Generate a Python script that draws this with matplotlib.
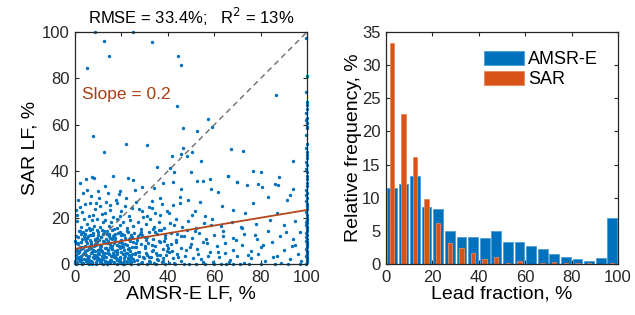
import numpy as np
import matplotlib
matplotlib.use("Agg")
import matplotlib.pyplot as plt

plt.rcParams["font.family"] = ["Liberation Sans", "DejaVu Sans"]

# ---- scatter data (AMSR-E LF vs SAR LF, %) ----
upper_x = [8.6, 24.8, 12.5, 33.1, 14.5, 44.6, 45.8, 5.0, 86.5, 44.1, 57.5, 46.4,
           58.9, 52.7, 7.9, 22.0, 31.2, 12.6, 46.4, 67.1, 72.5, 41.7, 45.7, 48.4,
           50.3, 54.3, 35.5, 40.9, 42.8, 94.1]
upper_y = [100.0, 99.8, 96.2, 95.7, 89.6, 89.7, 85.8, 84.3, 72.9, 68.2, 62.4, 58.5,
           58.9, 57.2, 55.1, 51.6, 51.2, 48.3, 49.9, 49.4, 48.7, 46.4, 47.3, 46.7,
           48.1, 44.5, 41.7, 41.2, 39.5, 44.6]

mid_x = [4.6, 7.2, 8.2, 16.2, 23.0, 25.1, 50.0, 76.9, 80.0, 88.1, 65.8, 58.2,
         52.7, 69.7, 79.0, 86.2, 29.0, 25.9, 9.8, 3.3, 5.3, 14.4, 19.4, 22.0,
         33.1, 36.6, 34.0, 38.1, 42.4, 45.7, 45.4, 48.9, 53.9, 55.3, 58.5, 61.8,
         66.1, 70.0, 74.0, 83.3, 87.6, 93.8, 92.7, 80.5, 63.2, 68.2, 73.3, 76.9,
         86.9, 91.2, 40.7, 42.4, 50.3, 56.0, 51.7, 45.3, 33.1, 28.7, 24.4, 18.0,
         15.1, 10.8, 6.5, 2.2, 0.4, 12.9, 7.9, 19.4, 30.9, 36.6]
mid_y = [36.6, 37.5, 37.2, 37.9, 37.2, 36.1, 39.5, 40.2, 39.5, 37.6, 37.9, 36.6,
         35.8, 35.2, 34.6, 34.5, 33.2, 31.9, 31.6, 30.8, 31.9, 30.5, 31.6, 28.6,
         27.3, 28.3, 32.6, 34.8, 35.5, 32.2, 29.0, 27.6, 26.9, 35.9, 32.2, 31.2,
         38.1, 35.2, 34.1, 29.0, 34.1, 32.2, 29.7, 33.1, 24.8, 23.4, 22.0, 26.3,
         22.0, 27.6, 22.0, 25.6, 21.3, 20.5, 22.7, 26.3, 24.1, 22.7, 24.1, 26.3,
         25.6, 24.8, 26.3, 24.6, 23.4, 22.0, 21.3, 20.5, 20.5, 21.3]

extra_x = [1.5, 3.0, 4.5, 6.0, 8.8, 10.2, 11.7, 13.3, 14.9, 16.4, 17.8, 19.9,
           21.5, 23.1, 26.2, 27.8, 29.3, 32.0, 34.5, 37.5, 39.5, 1.0, 7.0, 12.8,
           2.0, 18.9, 9.0]
extra_y = [27.5, 22.5, 25.8, 20.9, 23.7, 28.4, 21.6, 26.6, 23.1, 20.4, 27.8, 22.9,
           25.2, 20.8, 26.9, 23.5, 20.2, 24.4, 21.8, 25.7, 23.0, 21.0, 29.5, 33.8,
           34.7, 30.1, 26.1]

band15_x = [1.0, 2.5, 3.8, 5.0, 6.2, 7.5, 8.3, 9.6, 10.8, 12.0, 13.1, 14.5, 15.7,
            16.9, 18.2, 19.5, 20.9, 22.4, 23.8, 25.2, 27.0, 28.6, 30.4, 32.5, 34.1,
            36.3, 38.5, 41.0, 43.6, 46.2, 48.8, 52.0, 55.5, 59.0, 63.0, 67.5, 72.0,
            78.0, 84.0, 90.0, 95.0]
band15_y = [18.5, 16.0, 19.2, 17.1, 15.4, 18.8, 16.5, 19.6, 15.8, 17.9, 19.0, 16.2,
            18.2, 15.3, 19.4, 16.8, 17.9, 15.6, 19.1, 16.4, 18.3, 15.2, 17.4, 19.5,
            16.1, 18.0, 15.7, 17.5, 19.2, 16.0, 18.7, 15.5, 17.8, 19.4, 16.3, 18.1,
            15.6, 17.2, 19.1, 16.7, 18.4]

band10_x = [0.5, 1.7, 2.9, 4.1, 5.3, 6.4, 7.6, 8.8, 9.9, 11.2, 12.4, 13.5, 14.8,
            16.0, 17.3, 18.6, 19.8, 21.1, 22.5, 23.9, 25.4, 26.9, 28.4, 30.0, 31.7,
            33.5, 35.2, 37.0, 39.0, 41.3, 43.5, 45.8, 48.2, 50.6, 53.5, 56.5, 60.0,
            64.0, 68.0, 73.0, 78.5, 83.0, 88.5, 94.0, 97.0]
band10_y = [12.0, 14.2, 10.8, 13.1, 11.4, 14.6, 12.3, 10.3, 13.7, 11.6, 14.1, 10.9,
            12.8, 14.8, 11.2, 13.4, 10.5, 12.6, 14.4, 11.0, 13.2, 10.2, 14.0, 11.8,
            13.6, 10.6, 12.9, 14.5, 11.3, 13.3, 10.4, 12.2, 14.7, 11.1, 13.5, 10.7,
            12.6, 14.3, 11.4, 13.0, 10.9, 14.1, 12.0, 10.6, 13.8]

band5_x = [0.3, 1.1, 1.9, 2.7, 3.5, 4.3, 5.1, 5.9, 6.7, 7.5, 8.3, 9.1, 9.9, 10.8,
           11.6, 12.5, 13.4, 14.3, 15.2, 16.1, 17.1, 18.1, 19.1, 20.2, 21.3, 22.4,
           23.6, 24.8, 26.0, 27.3, 28.6, 30.0, 31.5, 33.0, 34.6, 36.2, 37.9, 39.7,
           41.6, 43.6, 45.7, 47.9, 50.2, 52.7, 55.3, 58.0, 61.0, 64.5, 68.0, 72.0,
           76.0, 80.0, 85.0, 90.0, 95.0]
band5_y = [6.2, 8.5, 5.4, 9.6, 7.1, 5.8, 8.9, 6.6, 9.3, 5.2, 7.8, 9.9, 6.0, 8.2,
           5.5, 9.4, 7.0, 5.9, 8.7, 6.4, 9.7, 5.1, 7.6, 9.0, 6.1, 8.4, 5.6, 9.5,
           7.2, 5.3, 8.8, 6.7, 9.2, 5.7, 7.9, 9.8, 6.3, 8.1, 5.4, 9.3, 7.0, 5.9,
           8.6, 6.5, 9.6, 5.2, 7.7, 9.1, 6.0, 8.3, 5.5, 7.4, 9.4, 6.2, 8.0]

band0_x = [0.2, 0.8, 1.4, 2.0, 2.6, 3.2, 3.8, 4.4, 5.0, 5.6, 6.2, 6.8, 7.4, 8.0,
           8.6, 9.2, 9.8, 10.4, 11.0, 11.6, 12.2, 12.8, 13.4, 14.0, 14.7, 15.4,
           16.1, 16.8, 17.5, 18.2, 18.9, 19.6, 20.3, 21.0, 21.8, 22.6, 23.4, 24.2,
           25.0, 25.9, 26.8, 27.7, 28.6, 29.6, 30.6, 31.7, 32.8, 34.0, 35.2, 36.5,
           37.8, 39.2, 40.7, 42.2, 43.8, 45.5, 47.2, 49.0, 51.0, 53.0, 55.0, 57.2,
           59.5, 62.0, 64.5, 67.0, 70.0, 73.0, 76.0, 79.0, 82.0, 85.5, 89.0, 92.5,
           96.0]
band0_y = [0.5, 2.8, 4.6, 1.2, 3.5, 0.3, 2.1, 4.1, 0.9, 3.0, 1.7, 4.8, 0.2, 2.5,
           3.9, 1.0, 4.4, 2.0, 0.6, 3.3, 4.9, 1.5, 2.9, 0.1, 4.2, 1.8, 3.6, 0.7,
           2.4, 4.5, 1.3, 3.1, 0.4, 2.7, 4.7, 1.1, 3.8, 0.8, 2.2, 4.3, 1.6, 3.4,
           0.3, 2.6, 4.6, 1.4, 3.2, 0.6, 2.3, 4.0, 1.2, 3.7, 0.5, 2.8, 4.5, 1.5,
           3.3, 0.2, 2.5, 4.1, 1.0, 3.6, 0.7, 2.9, 4.8, 1.8, 3.5, 0.4, 2.6, 4.4,
           1.3, 3.0, 0.6, 2.2, 4.2]

zero_x = [0.5, 3, 6, 9, 12, 15, 18, 21, 24, 27, 31, 35, 39, 43, 47, 52, 56, 60,
          63, 65, 68, 71, 75, 80, 86, 92, 97]
zero_y = [0, 0.2, 0, 0.1, 0, 0.3, 0, 0.1, 0, 0.2, 0, 0, 0.1, 0, 0.2, 0, 0, 0.1,
          0, 0.2, 0, 0, 0.1, 0, 0, 0.2, 0]

# dense core near the origin
core_x = [0.6, 1.3, 2.1, 2.8, 3.6, 4.2, 4.9, 5.7, 6.3, 7.1, 7.8, 8.5, 9.3, 10.1,
          10.7, 11.4, 12.1, 12.9, 13.7, 14.4, 15.1, 15.9, 16.6, 17.4, 18.3, 19.2,
          20.0, 20.8, 21.7, 22.7, 23.6, 24.6]
core_ya = [3.7, 11.8, 7.4, 1.9, 13.6, 5.1, 9.8, 0.9, 12.4, 6.8, 3.2, 10.6, 14.8,
           2.4, 8.1, 5.9, 13.1, 1.1, 9.1, 4.6, 11.2, 7.7, 2.9, 12.9, 6.2, 0.5, 10.3,
           4.2, 8.6, 13.9, 1.6, 7.3]
core_yb = [8.9, 2.2, 14.1, 6.5, 0.4, 10.9, 3.9, 12.1, 7.9, 1.4, 13.3, 5.6, 9.5,
           4.8, 0.8, 11.7, 2.7, 7.1, 14.3, 10.0, 1.8, 6.3, 12.7, 3.4, 8.4, 13.8,
           5.3, 0.2, 11.0, 2.5, 9.7, 4.4]
core_yc = [5.4, 9.2, 1.5, 12.8, 4.3, 7.6, 14.5, 2.6, 10.2, 0.7, 6.1, 8.8, 3.1,
           12.3, 6.9, 1.3, 9.9, 4.7, 13.0, 0.3, 7.2, 10.7, 3.7, 5.8, 1.9, 9.3,
           12.6, 7.5, 3.3, 6.6, 0.6, 11.5]
core_x2 = [0.2, 0.9, 1.7, 2.4, 3.2, 3.9, 4.6, 5.3, 6.0, 6.7, 7.4, 8.1, 8.9, 9.6,
           10.4, 11.1, 11.8, 12.6, 13.3, 14.1, 14.8, 15.5, 16.3, 17.0, 17.9, 18.8,
           19.6, 20.4, 21.2, 22.2, 23.2, 24.1]
core_yd = [1.2, 6.4, 3.0, 9.4, 0.6, 4.9, 11.3, 2.3, 7.0, 12.6, 0.9, 4.0, 8.3,
           1.7, 10.4, 5.5, 2.1, 13.5, 6.7, 1.0, 8.9, 3.6, 11.9, 0.4, 5.1, 9.6, 2.8,
           7.8, 1.5, 4.6, 10.8, 3.1]
core_ye = [9.9, 0.3, 5.0, 2.0, 7.3, 12.2, 1.4, 6.0, 3.6, 8.7, 15.1, 2.8, 0.5,
           11.4, 4.1, 7.9, 14.6, 3.5, 0.9, 6.2, 12.0, 1.2, 4.9, 9.0, 15.6, 2.0,
           6.8, 13.1, 4.5, 0.8, 6.9, 12.3]

# thinning out of the core towards larger AMSR-E LF
taper_x = [25.3, 26.1, 27.4, 28.2, 29.5, 30.3, 31.2, 32.4, 33.6, 34.3, 35.5, 36.8,
           37.4, 38.9, 39.6, 41.2, 42.5, 44.1, 25.8, 27.0, 28.9, 30.8, 32.0, 33.2,
           35.0, 36.0, 38.0, 40.3]
taper_y = [1.3, 9.1, 5.2, 13.0, 2.9, 7.8, 11.5, 0.8, 6.1, 14.0, 3.8, 9.6, 1.0,
           12.4, 5.7, 8.7, 0.6, 12.9, 4.7, 12.1, 0.9, 10.2, 2.9, 8.0, 4.6, 14.6,
           2.4, 5.3]

wide_x = [26.5, 29.0, 31.0, 33.8, 35.8, 38.2, 40.0, 42.8, 44.5, 46.8, 49.5, 51.8,
          54.2, 56.8, 58.6, 61.5, 63.8, 66.2, 69.5, 71.5, 74.5, 77.5, 81.0, 87.0,
          91.0, 93.5, 97.5]
wide_y = [7.4, 12.5, 3.9, 15.2, 1.7, 10.1, 6.8, 16.6, 3.1, 11.9, 7.3, 14.2, 2.1,
          9.2, 16.9, 5.1, 12.1, 0.9, 10.5, 16.1, 4.0, 12.6, 8.3, 3.6, 13.9, 7.6, 1.5]

# saturated column of points at AMSR-E LF = 100 %
col_x = [99.6, 100, 99.8, 100, 99.5, 100, 99.8, 100, 99.6, 100, 99.9, 100, 99.5,
         100, 99.7, 100, 99.6, 100, 99.8, 100, 99.5, 100, 99.7, 100, 99.9, 100,
         99.6, 100, 99.8, 100, 99.5, 100, 99.7, 100, 99.6, 100, 99.8, 100, 99.9,
         100, 99.6, 100, 99.7, 100, 99.8, 100, 99.6, 100, 99.7, 100, 99.8, 100,
         99.6, 100, 99.7, 100, 99.8, 100, 99.6, 100, 99.7, 100, 99.8, 100]
col_y = [0, 0.8, 1.6, 2.5, 3.3, 4.1, 5.0, 5.8, 6.6, 7.5, 8.3, 9.1, 10.0, 10.8,
         11.6, 12.5, 13.3, 14.1, 15.0, 15.8, 16.6, 17.5, 18.3, 19.1, 20.0, 21.2,
         22.4, 23.6, 24.8, 26.0, 27.2, 28.4, 29.6, 30.8, 32.0, 33.5, 35.0, 36.5,
         38.0, 39.5, 41.0, 42.5, 44.0, 45.5, 47.0, 48.4, 50.0, 51.7, 55.6, 58.5,
         59.2, 60.6, 62.0, 62.8, 65.0, 66.8, 68.5, 70.0, 74.0, 81.0, 97.6, 3.0,
         9.5, 16.0]

# least-squares fit shown on the chart: slope, intercept
fit_coef = [0.168, 6.5]

# ---- histogram data (relative frequency, %) ----
bin_centers = [2.5, 7.5, 12.5, 17.5, 22.5, 27.5, 32.5, 37.5, 42.5, 47.5,
               52.5, 57.5, 62.5, 67.5, 72.5, 77.5, 82.5, 87.5, 92.5, 97.5]
amsr_freq = [11.5, 12.05, 13.25, 8.65, 8.35, 4.95, 4.1, 4.1, 3.9, 4.95,
             3.3, 3.3, 2.7, 2.25, 1.55, 1.0, 0.75, 0.5, 0.95, 6.9]
sar_freq = [33.3, 22.7, 16.2, 9.75, 6.2, 3.2, 2.45, 1.6, 0.7, 1.1,
            0.1, 0.45, 0.05, 0.1, 0.3, 0.1, 0.1, 0.1, 0.0, 0.2]

blue = "#0072BD"
orange = "#D95319"
axcol = "#262626"

fig = plt.figure(figsize=(6.35, 3.15), dpi=100)
ax1 = fig.add_axes([0.1181, 0.1619, 0.3654, 0.7365])
ax2 = fig.add_axes([0.6079, 0.1619, 0.3654, 0.7365])

groups = [(upper_x, upper_y), (mid_x, mid_y), (extra_x, extra_y),
          (band15_x, band15_y), (band10_x, band10_y), (band5_x, band5_y),
          (band0_x, band0_y), (zero_x, zero_y), (core_x, core_ya),
          (core_x, core_yb), (core_x, core_yc), (core_x2, core_yd),
          (core_x2, core_ye), (taper_x, taper_y), (wide_x, wide_y),
          (col_x, col_y)]
for gx, gy in groups:
    ax1.scatter(gx, gy, s=6, color=blue, linewidths=0, clip_on=False, zorder=2)

ax1.plot([0, 100], [0, 100], ls=(0, (4, 3)), color="#6b6b6b", lw=1.0, zorder=3)
xf = np.array([0, 100])
ax1.plot(xf, np.polyval(fit_coef, xf), color="#B5461B", lw=1.3, zorder=4)
ax1.text(3, 71, "Slope = 0.2", color="#A8400F", fontsize=12.5)

ax1.set_xlim(0, 100)
ax1.set_ylim(0, 100)
ax1.set_xticks(range(0, 101, 20))
ax1.set_yticks(range(0, 101, 20))
ax1.set_xlabel("AMSR-E LF, %", fontsize=14, labelpad=1)
ax1.set_ylabel("SAR LF, %", fontsize=14, labelpad=2)
ax1.set_title("RMSE = 33.4%;   R$^2$ = 13%", fontsize=12, pad=6)

# histogram
ax2.bar(bin_centers, amsr_freq, width=4.2, color=blue, edgecolor="#4d9bd6",
        linewidth=0.6, label="AMSR-E", zorder=2)
ax2.bar(bin_centers, sar_freq, width=1.9, color=orange, edgecolor="#e8865c",
        linewidth=0.6, label="SAR", zorder=3)
ax2.set_xlim(0, 100)
ax2.set_ylim(0, 35)
ax2.set_xticks(range(0, 101, 20))
ax2.set_yticks(range(0, 36, 5))
ax2.set_xlabel("Lead fraction, %", fontsize=14, labelpad=1)
ax2.set_ylabel("Relative frequency, %", fontsize=14, labelpad=0)
ax2.legend(loc="upper right", frameon=False, fontsize=13, handlelength=2.2,
           handleheight=0.85, handletextpad=0.25, labelspacing=0.15,
           borderaxespad=0.5, bbox_to_anchor=(0.985, 0.99))

for ax in (ax1, ax2):
    ax.tick_params(direction="in", length=3, width=0.8, colors=axcol,
                   labelsize=12, top=True, right=True, pad=4)
    for sp in ax.spines.values():
        sp.set_color(axcol)
        sp.set_linewidth(0.9)
        sp.set_zorder(5)

fig.savefig("out.png", dpi=100)
